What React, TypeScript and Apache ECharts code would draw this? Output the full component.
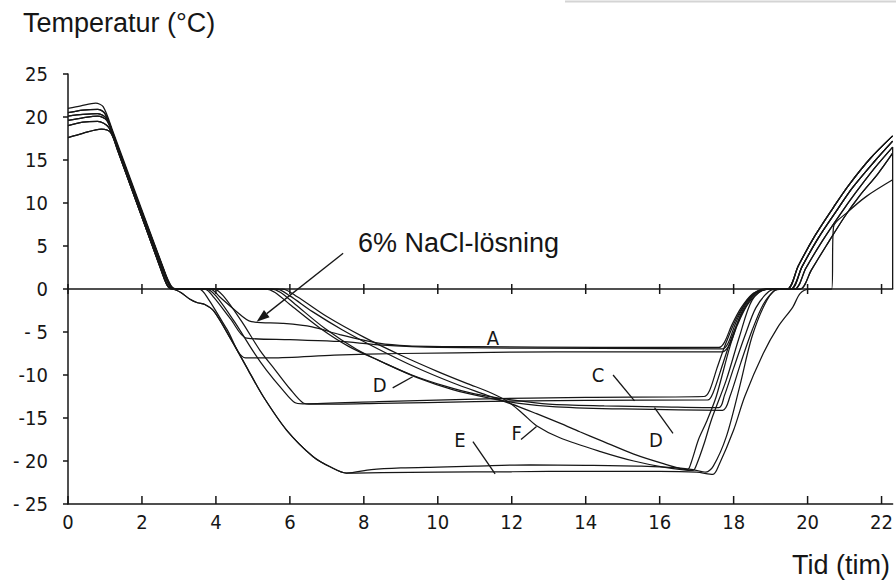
import React, { useEffect, useRef } from "react";
import * as echarts from "echarts";

// ---- axes ----
const xTicks = [0, 2, 4, 6, 8, 10, 12, 14, 16, 18, 20, 22];
const xTickLabels = ["0", "2", "4", "6", "8", "10", "12", "14", "16", "18", "20", "22"];
const xMax = 22.3;
const yTicks = [-25, -20, -15, -10, -5, 0, 5, 10, 15, 20, 25];
const yTickLabels = ["- 25", "- 20", "-15", "-10", "- 5", "0", "5", "10", "15", "20", "25"];

// ---- start of the runs (room temperature -> 0 °C) ----
const st1 = [[0, 21.0], [0.35, 21.3], [0.75, 21.6], [0.95, 21.2], [1.2, 18.5], [2.6, 2.2], [2.8, 0.3], [2.95, 0]];
const st2 = [[0, 20.5], [0.4, 20.8], [0.8, 20.9], [1.0, 20.4], [1.25, 17.7], [2.6, 2.0], [2.8, 0.2], [2.9, 0]];
const st3 = [[0, 20.1], [0.4, 20.3], [0.8, 20.4], [1.05, 19.8], [1.3, 17.0], [2.6, 2.1], [2.78, 0.2], [2.9, 0]];
const st4 = [[0, 19.6], [0.4, 19.9], [0.8, 20.1], [1.05, 19.6], [1.3, 16.9], [2.55, 2.3], [2.75, 0.3], [2.85, 0]];
const st5 = [[0, 19.0], [0.4, 19.4], [0.8, 19.5], [1.1, 18.8], [1.35, 16.0], [2.55, 1.9], [2.72, 0.2], [2.85, 0]];
const st6 = [[0, 17.6], [0.4, 18.1], [0.9, 18.6], [1.15, 18.2], [1.4, 15.5], [2.55, 1.8], [2.7, 0.3], [2.85, 0]];

// ---- end of the runs (0 °C -> warming) ----
const en1 = [[19.45, 0], [19.75, 2.7], [20.2, 6.2], [20.7, 9.5], [21.1, 12.0], [21.7, 15.2], [22.3, 17.8]];
const en2 = [[19.55, 0], [19.85, 2.6], [20.3, 6.0], [20.8, 9.2], [21.2, 11.7], [21.8, 14.8], [22.3, 17.2]];
const en3 = [[19.65, 0], [19.95, 2.4], [20.4, 5.6], [20.9, 8.8], [21.3, 11.2], [21.8, 14.0], [22.3, 16.5]];
const en4 = [[19.8, 0], [20.1, 2.2], [20.5, 5.0], [21.0, 8.4], [21.4, 10.8], [21.9, 13.4], [22.3, 15.8]];
const en5 = [[20.65, 0], [20.7, 7.2], [21.1, 9.0], [21.6, 10.8], [22.3, 12.7]];
const edge = [[22.3, 16.5], [22.3, 0]];

// ---- middle parts ----
const naclMid = [[3.85, 0], [4.1, -0.9], [4.5, -2.4], [4.96, -3.8], [5.8, -4.0], [6.6, -4.4], [7.35, -5.3], [8.4, -6.3], [9.2, -6.6], [11, -6.7], [14.4, -6.8], [17.6, -6.8], [17.75, -6.2], [17.95, -4.2], [18.2, -2.2], [18.5, -0.6], [18.8, -0.1], [19.0, 0]];
const aMid = [[3.7, 0], [3.95, -1.0], [4.4, -3.5], [4.83, -5.7], [6.0, -5.9], [7.35, -6.1], [8.4, -6.5], [10, -6.8], [14.4, -6.9], [17.7, -6.95], [17.85, -6.3], [18.05, -4.0], [18.3, -1.8], [18.6, -0.4], [18.9, 0]];
const aBot = [[3.55, 0], [3.8, -1.2], [4.3, -4.7], [4.8, -8.0], [5.5, -8.0], [7.2, -7.7], [9, -7.5], [12, -7.35], [14.4, -7.3], [17.7, -7.3], [17.9, -6.4], [18.1, -4.2], [18.35, -2.0], [18.65, -0.5], [18.95, 0]];
const c1Mid = [[3.75, 0], [4.0, -0.8], [4.5, -3.8], [5.0, -7.2], [5.36, -9.4], [5.8, -11.7], [6.13, -13.2], [6.35, -13.35], [8.4, -13.1], [11, -12.8], [14, -12.6], [17.2, -12.5], [17.35, -11.8], [17.55, -9.2], [17.8, -6.2], [18.1, -3.2], [18.45, -0.9], [18.8, 0]];
const c2Mid = [[3.95, 0], [4.2, -0.8], [4.7, -3.8], [5.2, -7.2], [5.6, -9.4], [6.0, -11.6], [6.36, -13.25], [6.6, -13.4], [8.4, -13.3], [11, -13.1], [14, -12.95], [17.3, -12.9], [17.45, -12.0], [17.7, -8.8], [17.95, -5.6], [18.25, -2.6], [18.6, -0.5], [18.95, 0]];
const d1Mid = [[5.35, 0], [5.6, -0.4], [6.0, -1.8], [6.8, -4.5], [7.6, -6.7], [8.4, -8.3], [9.3, -10.0], [10.2, -11.3], [11.0, -12.2], [12.0, -12.9], [13.0, -13.4], [14.5, -13.6], [16, -13.7], [17.6, -13.8], [17.75, -12.4], [18.0, -9.2], [18.3, -5.5], [18.6, -2.2], [18.95, -0.3], [19.2, 0]];
const d2Mid = [[5.5, 0], [5.75, -0.4], [6.15, -1.8], [6.95, -4.6], [7.8, -7.0], [8.6, -8.7], [9.5, -10.4], [10.4, -11.7], [11.3, -12.6], [12.2, -13.3], [13.2, -13.7], [15, -13.95], [17.7, -14.1], [17.9, -12.5], [18.2, -8.5], [18.5, -4.8], [18.8, -1.8], [19.1, -0.2], [19.3, 0]];
const f1Mid = [[5.65, 0], [6.0, -0.8], [6.6, -2.6], [7.4, -4.7], [8.4, -7.0], [9.4, -9.1], [10.4, -10.9], [11.3, -12.3], [12.2, -13.7], [12.67, -14.5], [13.3, -15.6], [13.84, -16.6], [14.4, -17.6], [15.3, -19.2], [16.1, -20.3], [16.75, -21.0], [16.85, -20.2], [17.05, -17.5], [17.26, -15.5], [17.53, -12.5], [17.9, -6.7], [18.25, -2.4], [18.6, -0.5], [19.0, 0]];
const f2Mid = [[5.8, 0], [6.2, -0.9], [7.0, -3.2], [8.0, -5.6], [9.0, -7.7], [10.0, -9.6], [10.8, -11.0], [11.4, -12.0], [11.9, -13.1], [12.3, -14.5], [12.67, -15.9], [13.3, -17.3], [14.4, -18.9], [15.3, -20.0], [16.1, -20.7], [16.9, -21.1], [17.0, -20.4], [17.2, -18.0], [17.4, -15.2], [17.8, -10.6], [18.16, -5.5], [18.5, -1.3], [18.9, 0]];
const eDescent = [[3.05, -0.4], [3.3, -1.2], [3.5, -1.6], [3.7, -1.8], [3.95, -2.6], [4.4, -5.8], [4.87, -9.4], [5.28, -12.5], [5.91, -16.4], [6.63, -19.5], [7.1, -20.7], [7.53, -21.4]];
const e1Rest = [[8.5, -21.35], [10, -21.3], [12, -21.25], [14, -21.2], [16, -21.2], [17.0, -21.3], [17.44, -21.55], [17.6, -20.5], [18.0, -16.4], [18.3, -12.5], [18.8, -7.5], [19.2, -4.4], [19.6, -2.1], [19.8, -0.5], [20.05, 0]];
const e2Rest = [[8.2, -21.0], [9, -20.8], [10, -20.7], [11, -20.6], [12.5, -20.45], [14, -20.5], [15.5, -20.6], [16.5, -20.8], [16.9, -21.0], [17.25, -21.3], [17.45, -20.6], [17.8, -17.2], [18.16, -11.4], [18.5, -5.5], [18.9, -1.3], [19.2, 0]];

const curves = [
  [...st1, ...naclMid, ...en1],
  [...st2, ...aMid, ...en2],
  [...st3, ...aBot, ...en1],
  [...st4, ...c1Mid, ...en2],
  [...st5, ...c2Mid, ...en3],
  [...st2, ...d1Mid, ...en4],
  [...st3, ...d2Mid, ...en2],
  [...st4, ...f1Mid, ...en1],
  [...st5, ...f2Mid, ...en3],
  [...st6, ...eDescent, ...e1Rest, ...en5],
  [...st6, ...eDescent, ...e2Rest, ...en4],
];

// ---- annotations ----
const noteLetters = ["A", "C", "D", "D", "E", "F"];
const noteX = [11.49, 14.33, 8.43, 15.9, 10.6, 12.13];
const noteY = [-5.7, -10.0, -11.2, -17.6, -17.6, -16.8];
const pointerFrom = [[8.78, -11.5], [14.74, -10.0], [16.36, -16.8], [10.95, -17.75], [12.25, -17.5]];
const pointerTo = [[9.32, -10.2], [15.32, -13.0], [15.86, -13.8], [11.55, -21.5], [12.67, -16.0]];
const naclText = "6% NaCl-lösning";
const naclTextAt = [7.84, 5.3];
const naclArrowFrom = [7.44, 4.15];
const naclArrowTo = [5.1, -3.8];

const INK = "#161616";
const TICK_FONT = "'Liberation Sans Narrow', 'DejaVu Sans Condensed', 'Roboto Condensed', sans-serif";
const TEXT_FONT = "'Liberation Sans', Arial, Helvetica, sans-serif";

export default function App() {
  const ref = useRef<HTMLDivElement>(null);
  useEffect(() => {
    if (!ref.current) return;
    const chart = echarts.init(ref.current, undefined, { renderer: "svg" });

    const lineSeries: any[] = curves.map((d, i) => ({
      type: "line",
      name: "c" + i,
      data: d,
      smooth: 0.3,
      showSymbol: false,
      symbol: "none",
      silent: true,
      lineStyle: { color: INK, width: 1.25 },
      z: 3,
    }));
    lineSeries.push({
      type: "line",
      name: "edge",
      data: edge,
      showSymbol: false,
      symbol: "none",
      silent: true,
      lineStyle: { color: INK, width: 1.3 },
      z: 3,
    });

    const zeroTicks = {
      type: "custom",
      name: "zeroTicks",
      silent: true,
      data: xTicks.map((v) => [v, 0]),
      renderItem: (_p: any, api: any) => {
        const c = api.coord([api.value(0), 0]);
        return {
          type: "line",
          shape: { x1: c[0], y1: c[1] - 5, x2: c[0], y2: c[1] + 5 },
          style: { stroke: INK, lineWidth: 1.5 },
        };
      },
      z: 4,
    };
    const bottomTicks = {
      type: "custom",
      name: "bottomTicks",
      silent: true,
      data: xTicks.map((v) => [v, -25]),
      renderItem: (_p: any, api: any) => {
        const c = api.coord([api.value(0), api.value(1)]);
        return {
          type: "line",
          shape: { x1: c[0], y1: c[1], x2: c[0], y2: c[1] - 8 },
          style: { stroke: INK, lineWidth: 1.5 },
        };
      },
      z: 4,
    };
    const letters = {
      type: "custom",
      name: "letters",
      silent: true,
      data: noteX.map((x, i) => [x, noteY[i], i]),
      renderItem: (_p: any, api: any) => {
        const c = api.coord([api.value(0), api.value(1)]);
        return {
          type: "text",
          x: c[0],
          y: c[1],
          style: {
            text: noteLetters[api.value(2)],
            fill: INK,
            font: "20px " + TICK_FONT,
            align: "center",
            verticalAlign: "middle",
          },
        };
      },
      z: 5,
    };
    const pointers = {
      type: "custom",
      name: "pointers",
      silent: true,
      data: pointerFrom.map((f, i) => [f[0], f[1], pointerTo[i][0], pointerTo[i][1]]),
      encode: { x: [0, 2], y: [1, 3] },
      renderItem: (_p: any, api: any) => {
        const a = api.coord([api.value(0), api.value(1)]);
        const b = api.coord([api.value(2), api.value(3)]);
        return {
          type: "line",
          shape: { x1: a[0], y1: a[1], x2: b[0], y2: b[1] },
          style: { stroke: INK, lineWidth: 1.3 },
        };
      },
      z: 5,
    };
    const nacl = {
      type: "custom",
      name: "nacl",
      silent: true,
      data: [[naclArrowFrom[0], naclArrowFrom[1], naclArrowTo[0], naclArrowTo[1]]],
      encode: { x: [0, 2], y: [1, 3] },
      renderItem: (_p: any, api: any) => {
        const a = api.coord([api.value(0), api.value(1)]);
        const b = api.coord([api.value(2), api.value(3)]);
        const t = api.coord(naclTextAt);
        const dx = b[0] - a[0];
        const dy = b[1] - a[1];
        const len = Math.sqrt(dx * dx + dy * dy) || 1;
        const ux = dx / len;
        const uy = dy / len;
        const hl = 13;
        const hw = 4.5;
        const bx = b[0] - ux * hl;
        const by = b[1] - uy * hl;
        return {
          type: "group",
          children: [
            {
              type: "line",
              shape: { x1: a[0], y1: a[1], x2: bx, y2: by },
              style: { stroke: INK, lineWidth: 1.3 },
            },
            {
              type: "polygon",
              shape: {
                points: [
                  [b[0], b[1]],
                  [bx - uy * hw, by + ux * hw],
                  [bx + uy * hw, by - ux * hw],
                ],
              },
              style: { fill: INK },
            },
            {
              type: "text",
              x: t[0],
              y: t[1],
              style: {
                text: naclText,
                fill: INK,
                font: "27px " + TEXT_FONT,
                align: "left",
                verticalAlign: "middle",
              },
            },
          ],
        };
      },
      z: 5,
    };

    const option: any = {
      animation: false,
      backgroundColor: "#ffffff",
      grid: { left: 68, right: 3, top: 74, bottom: 76, containLabel: false },
      xAxis: [
        {
          type: "value",
          min: 0,
          max: xMax,
          interval: 2,
          position: "bottom",
          axisLine: { onZero: false, lineStyle: { color: INK, width: 1.5 } },
          axisTick: { show: false },
          splitLine: { show: false },
          axisLabel: {
            margin: 8,
            color: INK,
            fontSize: 20,
            fontFamily: TICK_FONT,
            showMaxLabel: false,
            formatter: (v: number) => {
              const k = xTicks.indexOf(v);
              return k >= 0 ? xTickLabels[k] : "";
            },
          },
        },
        {
          type: "value",
          min: 0,
          max: xMax,
          interval: 2,
          position: "bottom",
          axisLine: { onZero: true, onZeroAxisIndex: 0, lineStyle: { color: INK, width: 1.5 } },
          axisTick: { show: false },
          axisLabel: { show: false },
          splitLine: { show: false },
        },
      ],
      yAxis: {
        type: "value",
        min: -25,
        max: 25,
        interval: 5,
        axisLine: { show: true, onZero: false, lineStyle: { color: INK, width: 1.5 } },
        axisTick: { show: true, length: 5, lineStyle: { color: INK, width: 1.5 } },
        splitLine: { show: false },
        axisLabel: {
          margin: 20,
          color: INK,
          fontSize: 20,
          fontFamily: TICK_FONT,
          formatter: (v: number) => {
            const k = yTicks.indexOf(v);
            return k >= 0 ? yTickLabels[k] : "";
          },
        },
      },
      graphic: [
        {
          type: "text",
          left: 23,
          top: 9,
          style: { text: "Temperatur (°C)", font: "27px " + TEXT_FONT, fill: INK },
        },
        {
          type: "text",
          right: 6,
          top: 551,
          style: { text: "Tid (tim)", font: "27px " + TEXT_FONT, fill: INK },
        },
        {
          type: "line",
          shape: { x1: 565, y1: 1.5, x2: 896, y2: 1.5 },
          style: { stroke: "#d4d4d4", lineWidth: 2 },
        },
      ],
      series: [...lineSeries, zeroTicks, bottomTicks, pointers, letters, nacl],
    };
    chart.setOption(option);
    return () => chart.dispose();
  }, []);

  return (
    <div
      ref={ref}
      style={{ position: "fixed", left: 0, top: 0, width: 896, height: 580, background: "#fff" }}
    />
  );
}
